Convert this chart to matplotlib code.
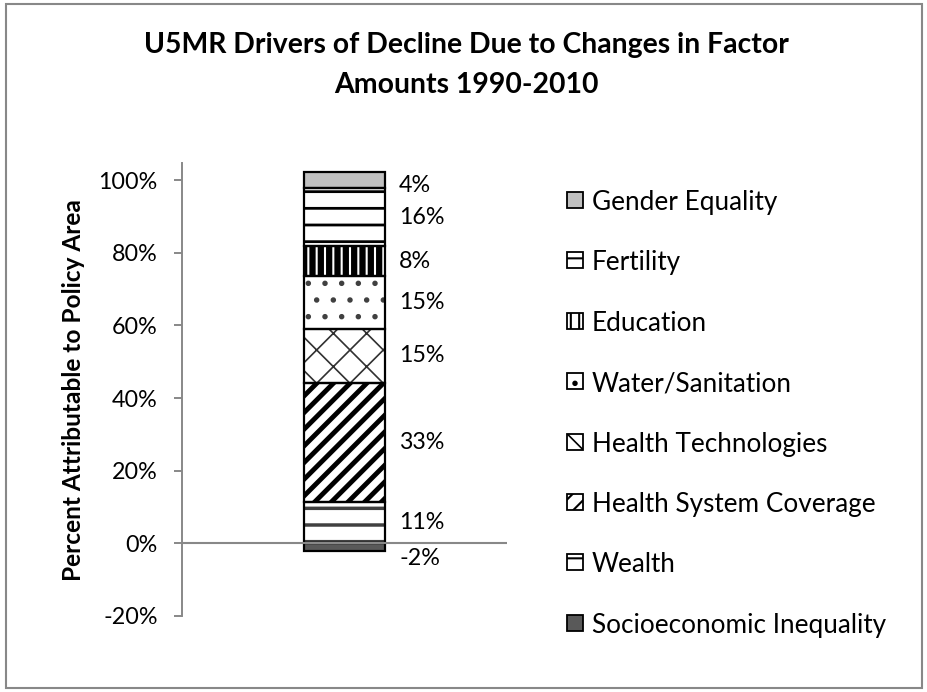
import matplotlib
matplotlib.use("Agg")
import matplotlib.pyplot as plt
from matplotlib.patches import Rectangle
import numpy as np

plt.rcParams['font.family'] = ['Lato', 'DejaVu Sans']

categories = ["Socioeconomic Inequality", "Wealth", "Health System Coverage",
              "Health Technologies", "Water/Sanitation", "Education",
              "Fertility", "Gender Equality"]
values = [-2.2, 11.3, 32.9, 14.9, 14.5, 8.2, 16.0, 4.4]
labels = ["-2%", "11%", "33%", "15%", "15%", "8%", "16%", "4%"]
yticks = [-20, 0, 20, 40, 60, 80, 100]
title_lines = ["U5MR Drivers of Decline Due to Changes in Factor", "Amounts 1990-2010"]
ylabel = "Percent Attributable to Policy Area"

faces = ['#595959', 'white', 'white', 'white', 'white', 'white', 'white', '#C0C0C0']
hatches = [None, '-', '//', 'x', '.', '||', '-', None]
hatch_cols = ['black', '#404040', 'black', '#303030', '#404040', 'black', 'black', 'black']
hatch_lws = [1, 2.5, 3.5, 1.2, 1.5, 4.5, 2.0, 1]

W, H = 928, 692
fig = plt.figure(figsize=(W/100, H/100), dpi=100)
renderer = fig.canvas.get_renderer()


def fx(px):
    return px / W


def fy(py):
    return 1 - py / H


def fit(text, target_px, vertical=False):
    fs0 = text.get_fontsize()
    bb = text.get_window_extent(renderer)
    size = bb.height if vertical else bb.width
    text.set_fontsize(fs0 * target_px / size)
    return text.get_fontsize()


ax = fig.add_axes([fx(182), fy(616), fx(507) - fx(182), fy(163) - fy(616)])
ax.set_xlim(-0.5, 0.5)
ax.set_ylim(-20, 104.7)

# measure font size for tick-size text
probe = fig.text(0, 0, "100%", fontsize=12)
tick_fs = fit(probe, 59)
probe.remove()

bw = 0.25
bottom_pos = 0.0
for cat, v, fc, h, hc, hl in zip(categories, values, faces, hatches, hatch_cols, hatch_lws):
    if v < 0:
        b = 0.0
    else:
        b = bottom_pos
        bottom_pos += v
    with plt.rc_context({'hatch.linewidth': hl}):
        ax.bar(0, v, bw, bottom=b, color=fc, edgecolor=hc, linewidth=0,
               hatch=h, zorder=2)
    ax.bar(0, v, bw, bottom=b, fill=False, edgecolor='black', linewidth=1.6, zorder=3)

# data labels
bottom_pos = 0.0
offsets = [-3.0, 0, 0, 0, 0, 0, 0, -1.4]
for v, lab, off in zip(values, labels, offsets):
    if v < 0:
        yc = v / 2
    else:
        yc = bottom_pos + v / 2
        bottom_pos += v
    ax.text(0.168, yc + off, lab, ha='left', va='center', fontsize=tick_fs, color='black')

ax.axhline(0, color='#888888', linewidth=1.5, zorder=4)

for s in ['top', 'right', 'bottom']:
    ax.spines[s].set_visible(False)
ax.spines['left'].set_color('#888888')
ax.spines['left'].set_linewidth(1.4)
ax.set_xticks([])
ax.set_yticks(yticks)
ax.set_yticklabels([f"{t}%" for t in yticks], fontsize=tick_fs)
ax.tick_params(axis='y', length=6, width=1.4, color='#888888', pad=11.5)

# y label
yl = fig.text(fx(74), fy(390), ylabel, rotation=90, ha='center', va='center',
              fontsize=14, fontweight='bold')
fit(yl, 384, vertical=True)

# title
t1 = fig.text(fx(466), fy(45), title_lines[0], ha='center', va='center',
              fontsize=18, fontweight='bold')
title_fs = fit(t1, 648)
fig.text(fx(466), fy(85), title_lines[1], ha='center', va='center',
         fontsize=title_fs, fontweight='bold')

# legend (manual layout)
probe = fig.text(0, 0, categories[0], fontsize=14)
leg_fs = fit(probe, 295)
probe.remove()
row0, pitch = 200, 60.4
for i, idx in enumerate(range(len(categories) - 1, -1, -1)):
    yc = row0 + i * pitch
    with plt.rc_context({'hatch.linewidth': min(hatch_lws[idx], 1.5)}):
        r = Rectangle((fx(567), fy(yc + 8)), fx(16), 16 / H, transform=fig.transFigure,
                      facecolor=faces[idx], edgecolor='black', linewidth=1.3,
                      hatch=hatches[idx])
    fig.patches.append(r)
    fig.text(fx(592), fy(yc), categories[idx], ha='left', va='center_baseline',
             fontsize=leg_fs)

# outer frame
fig.patches.append(Rectangle((fx(6), 4 / H), 1 - 12 / W, 1 - 8 / H, transform=fig.transFigure,
                             fill=False, edgecolor='#888888', linewidth=1.5))

fig.savefig("out.png", dpi=100)
